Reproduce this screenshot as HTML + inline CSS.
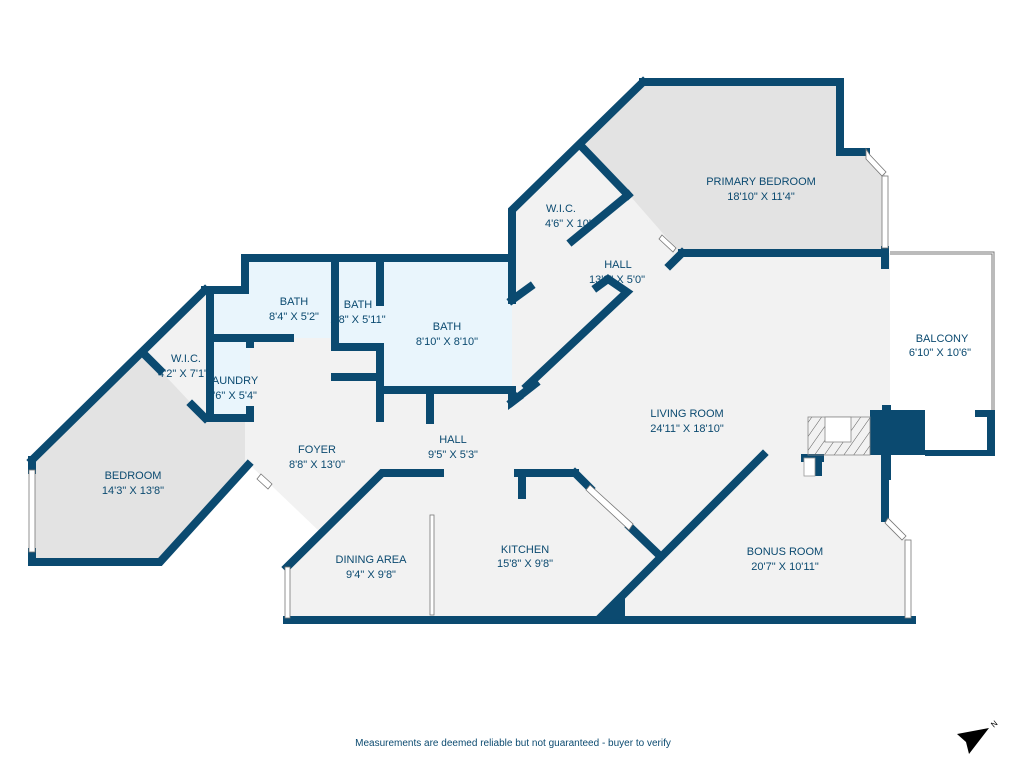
<!DOCTYPE html>
<html><head><meta charset="utf-8"><style>
body{margin:0;background:#fff;width:1024px;height:768px;overflow:hidden}
svg{display:block}
text{font-family:"Liberation Sans",sans-serif;fill:#0b4a70;font-size:11px;text-anchor:middle}
</style></head><body>
<svg width="1024" height="768" viewBox="0 0 1024 768">
<defs><pattern id="h" width="8" height="8" patternUnits="userSpaceOnUse" patternTransform="rotate(35)"><line x1="0" y1="0" x2="0" y2="8" stroke="#333" stroke-width="0.8"/></pattern></defs>
<polygon fill="#f2f2f2" points="643,82 840,82 840,152 868,152 885,172 885,253 890,253 890,410 885,410 885,518 908,540 908,620 287,620 287,565 320,532 250,465 160,562 32,562 32,460 205,290 245,290 245,258 512,258 512,210"/>
<polygon fill="#e3e3e3" points="583,142 643,82 840,82 840,152 868,152 885,172 885,253 680,253"/>
<polygon fill="#e3e3e3" points="32,460 143,352 205,418 245,418 245,465 160,562 32,562"/>
<polygon fill="#e9f5fc" points="212,294 245,294 245,262 512,262 512,388 380,388 380,345 335,345 335,338 250,338 250,418 212,418"/>
<polyline points="890,253 993,253 993,412" fill="none" stroke="#777" stroke-width="3"/>
<polyline points="890,253 993,253 993,412" fill="none" stroke="#fff" stroke-width="1"/>
<g fill="none" stroke="#0b4a70" stroke-width="8" stroke-linecap="square">
<polyline points="643,82 840,82 840,152 866,152"/>
<polyline points="643,82 512,210 512,300"/>
<polyline points="512,300 530,287"/>
<line x1="583" y1="148" x2="628" y2="195"/>
<line x1="628" y1="195" x2="572" y2="241"/>
<line x1="682" y1="253" x2="885" y2="253"/>
<line x1="682" y1="253" x2="670" y2="265"/>
<polyline points="597,287 608,279 627,292 527,386"/>
<line x1="512" y1="402" x2="535" y2="384"/>
<polyline points="205,290 245,290 245,258 512,258"/>
<polyline points="205,290 32,460"/>
<polyline points="32,460 32,470"/>
<polyline points="32,552 32,562 160,562 248,465"/>
<polyline points="210,290 210,418 250,418"/>
<line x1="210" y1="338" x2="290" y2="338"/>
<line x1="250" y1="338" x2="250" y2="344"/>
<line x1="250" y1="410" x2="250" y2="418"/>
<line x1="145" y1="355" x2="160" y2="370"/>
<line x1="192" y1="405" x2="205" y2="418"/>
<polyline points="335,258 335,347 380,347"/>
<line x1="380" y1="258" x2="380" y2="302"/>
<polyline points="335,377 380,377"/>
<polyline points="380,347 380,418"/>
<line x1="380" y1="390" x2="512" y2="390"/>
<line x1="430" y1="390" x2="430" y2="420"/>
<polyline points="440,473 382,473 287,567"/>
<line x1="518" y1="473" x2="575" y2="473"/>
<line x1="522" y1="473" x2="522" y2="495"/>
<line x1="575" y1="473" x2="590" y2="488"/>
<line x1="630" y1="527" x2="657" y2="553"/>
<line x1="763" y1="455" x2="600" y2="618"/>
<line x1="287" y1="620" x2="912" y2="620"/>
<line x1="885" y1="455" x2="885" y2="518"/>
<line x1="885" y1="250" x2="885" y2="265"/>
<line x1="805" y1="458" x2="820" y2="458"/>
</g>
<polygon fill="#0b4a70" points="508,386 524,398 508,410"/>
<polygon fill="#0b4a70" points="600,618 625,594 625,620"/>
<rect x="870" y="410" width="55" height="45" fill="#0b4a70"/>
<rect x="882" y="405" width="9" height="75" fill="#0b4a70"/>
<rect x="925" y="450" width="70" height="6" fill="#0b4a70"/>
<rect x="987" y="410" width="8" height="46" fill="#0b4a70"/>
<rect x="975" y="410" width="20" height="7" fill="#0b4a70"/>
<rect x="815" y="456" width="7" height="20" fill="#0b4a70"/>
<rect x="804" y="458" width="11" height="18" fill="#fff" stroke="#999" stroke-width="0.8"/>
<rect x="808" y="417" width="62" height="38" fill="url(#h)" stroke="#888" stroke-width="0.8"/>
<rect x="825" y="417" width="26" height="25" fill="#fff" stroke="#888" stroke-width="0.8"/>
<g fill="#fff" stroke="#777" stroke-width="0.8">
<polygon points="866,149 870,155 886,172 882,176 866,159"/>
<rect x="882" y="176" width="6" height="72"/>
<rect x="29" y="470" width="6" height="82"/>
<rect x="285" y="567" width="5" height="51"/>
<rect x="430" y="515" width="4" height="100"/>
<polygon points="590,485 633,524 629,530 586,490"/>
<polygon points="888,518 906,536 902,540 885,523"/>
<rect x="905" y="540" width="6" height="78"/>
<polygon points="261,474 272,484 268,489 257,479"/>
<polygon points="662,235 676,248 673,252 659,239"/>
</g>
<text x="761" y="185">PRIMARY BEDROOM</text><text x="761" y="200">18'10" X 11'4"</text>
<text x="561" y="212">W.I.C.</text><text x="573" y="227">4'6" X 10'3"</text>
<text x="618" y="268">HALL</text><text x="617" y="283">13'2" X 5'0"</text>
<text x="294" y="305">BATH</text><text x="294" y="320">8'4" X 5'2"</text>
<text x="358" y="308">BATH</text><text x="358" y="323">2'8" X 5'11"</text>
<text x="447" y="330">BATH</text><text x="447" y="345">8'10" X 8'10"</text>
<text x="186" y="362">W.I.C.</text><text x="183" y="377">4'2" X 7'1"</text>
<text x="232" y="384">LAUNDRY</text><text x="232" y="399">2'6" X 5'4"</text>
<text x="942" y="342">BALCONY</text><text x="940" y="356">6'10" X 10'6"</text>
<text x="687" y="417">LIVING ROOM</text><text x="687" y="432">24'11" X 18'10"</text>
<text x="317" y="453">FOYER</text><text x="317" y="468">8'8" X 13'0"</text>
<text x="453" y="443">HALL</text><text x="453" y="458">9'5" X 5'3"</text>
<text x="133" y="479">BEDROOM</text><text x="133" y="494">14'3" X 13'8"</text>
<text x="525" y="553">KITCHEN</text><text x="525" y="567">15'8" X 9'8"</text>
<text x="371" y="563">DINING AREA</text><text x="371" y="578">9'4" X 9'8"</text>
<text x="785" y="555">BONUS ROOM</text><text x="785" y="570">20'7" X 10'11"</text>
<text x="513" y="746" style="font-size:10px">Measurements are deemed reliable but not guaranteed - buyer to verify</text>
<polygon points="957,734 989,728 969,754 966,742" fill="#000"/>
<text x="996" y="726" style="font-size:8px;fill:#000" transform="rotate(-40 996 726)">N</text>
</svg>
</body></html>
